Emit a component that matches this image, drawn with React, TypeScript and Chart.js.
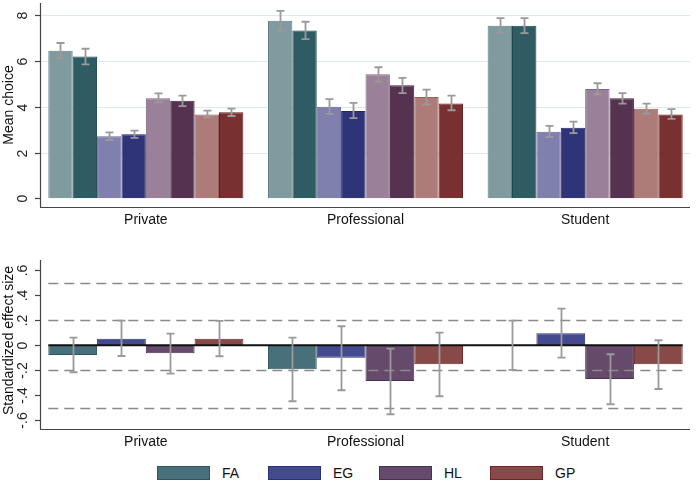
import React, { useEffect, useRef } from "react";
import { Chart, registerables } from "chart.js";
Chart.register(...registerables);

// ---------- DATA ----------
const categories = ["Private", "Professional", "Student"];
const seriesNames = ["FA", "EG", "HL", "GP"];

// Top panel: mean choice (light = first condition, dark = second condition)
const faLight = [6.45, 7.76, 7.55];
const faLightLo = [6.12, 7.33, 7.23];
const faLightHi = [6.79, 8.2, 7.88];
const faDark = [6.2, 7.34, 7.55];
const faDarkLo = [5.86, 6.96, 7.22];
const faDarkHi = [6.54, 7.72, 7.88];
const egLight = [2.71, 4.0, 2.91];
const egLightLo = [2.55, 3.69, 2.68];
const egLightHi = [2.88, 4.34, 3.17];
const egDark = [2.8, 3.82, 3.09];
const egDarkLo = [2.64, 3.51, 2.85];
const egDarkHi = [2.96, 4.17, 3.35];
const hlLight = [4.38, 5.42, 4.78];
const hlLightLo = [4.2, 5.1, 4.55];
const hlLightHi = [4.59, 5.73, 5.03];
const hlDark = [4.27, 4.94, 4.37];
const hlDarkLo = [4.03, 4.6, 4.14];
const hlDarkHi = [4.49, 5.27, 4.6];
const gpLight = [3.67, 4.43, 3.92];
const gpLightLo = [3.54, 4.11, 3.7];
const gpLightHi = [3.83, 4.75, 4.14];
const gpDark = [3.76, 4.15, 3.67];
const gpDarkLo = [3.6, 3.85, 3.47];
const gpDarkHi = [3.92, 4.49, 3.9];

// Bottom panel: standardized effect sizes
const faEffect = [-0.078, -0.192, 0.0];
const faEffectLo = [-0.216, -0.448, -0.197];
const faEffectHi = [0.061, 0.061, 0.197];
const egEffect = [0.053, -0.099, 0.096];
const egEffectLo = [-0.086, -0.36, -0.099];
const egEffectHi = [0.197, 0.152, 0.293];
const hlEffect = [-0.064, -0.286, -0.27];
const hlEffectLo = [-0.227, -0.552, -0.472];
const hlEffectHi = [0.093, -0.027, -0.072];
const gpEffect = [0.053, -0.152, -0.152];
const gpEffectLo = [-0.088, -0.408, -0.35];
const gpEffectHi = [0.195, 0.101, 0.04];

const topTicks = [0, 2, 4, 6, 8];
const topTickLabels = ["0", "2", "4", "6", "8"];
const topGridValues = [2, 4, 6, 8];
const bottomTicks = [-0.6, -0.4, -0.2, 0, 0.2, 0.4, 0.6];
const bottomTickLabels = ["-.6", "-.4", "-.2", "0", ".2", ".4", ".6"];
const refLines = [-0.5, -0.2, 0.2, 0.5];

// ---------- STYLE ----------
const FONT = '"Liberation Sans", Arial, Helvetica, sans-serif';
const ERR_COLOR = "#9a9a9a";

const topColors = [
  ["#7f9ba0", "#5e7f86"],
  ["#2f5b63", "#1c464f"],
  ["#8080ae", "#66669c"],
  ["#2f3377", "#202468"],
  ["#9a8098", "#806680"],
  ["#55324f", "#40203c"],
  ["#ad7c79", "#955f5c"],
  ["#793030", "#661a1a"],
];
const bottomColors = [
  ["#47707a", "#2c555e"],
  ["#444a8f", "#2c3277"],
  ["#654a6b", "#4a3050"],
  ["#884a48", "#6a2828"],
];

type AxisCfg = {
  ticks: number[];
  labels: string[];
  title: string;
  axisTop: number;
  axisBottom: number;
  grid?: number[];
  refLines?: number[];
  zeroLine?: boolean;
  titleShift: number;
};

function makePlugin(cfg: AxisCfg) {
  const axisX = 40.5;
  const axisRight = 690;
  return {
    id: "statAxes",
    beforeDatasetsDraw(chart: any) {
      const ctx = chart.ctx;
      const y = chart.scales.y;
      if (cfg.grid) {
        ctx.save();
        ctx.strokeStyle = "#dde9ed";
        ctx.lineWidth = 1.2;
        cfg.grid.forEach((v) => {
          const py = Math.round(y.getPixelForValue(v)) + 0.5;
          ctx.beginPath();
          ctx.moveTo(axisX, py);
          ctx.lineTo(axisRight, py);
          ctx.stroke();
        });
        ctx.restore();
      }
    },
    afterDatasetsDraw(chart: any) {
      const ctx = chart.ctx;
      const y = chart.scales.y;
      const n = chart.data.datasets.length;
      const m0 = chart.getDatasetMeta(0).data[0];
      const mN = chart.getDatasetMeta(n - 1).data;
      const last = mN[mN.length - 1];
      const x0 = m0.x - m0.width / 2;
      const x1 = last.x + last.width / 2;
      ctx.save();
      if (cfg.refLines) {
        ctx.strokeStyle = "#8a8a8a";
        ctx.lineWidth = 1.3;
        ctx.setLineDash([10, 6]);
        cfg.refLines.forEach((v) => {
          const py = Math.round(y.getPixelForValue(v)) + 0.5;
          ctx.beginPath();
          ctx.moveTo(x0, py);
          ctx.lineTo(x1, py);
          ctx.stroke();
        });
        ctx.setLineDash([]);
      }
      if (cfg.zeroLine) {
        ctx.strokeStyle = "#111";
        ctx.lineWidth = 1.8;
        const py = y.getPixelForValue(0);
        ctx.beginPath();
        ctx.moveTo(x0, py);
        ctx.lineTo(x1, py);
        ctx.stroke();
      }
      // error bars
      ctx.strokeStyle = ERR_COLOR;
      ctx.lineWidth = 1.8;
      chart.data.datasets.forEach((ds: any, i: number) => {
        const meta = chart.getDatasetMeta(i);
        meta.data.forEach((el: any, j: number) => {
          const lo = y.getPixelForValue(ds.errLo[j]);
          const hi = y.getPixelForValue(ds.errHi[j]);
          const x = Math.round(el.x) + 0.5;
          ctx.beginPath();
          ctx.moveTo(x, lo);
          ctx.lineTo(x, hi);
          ctx.moveTo(x - 4, lo);
          ctx.lineTo(x + 4, lo);
          ctx.moveTo(x - 4, hi);
          ctx.lineTo(x + 4, hi);
          ctx.stroke();
        });
      });
      ctx.restore();
    },
    afterDraw(chart: any) {
      const ctx = chart.ctx;
      const y = chart.scales.y;
      const x = chart.scales.x;
      const area = chart.chartArea;
      ctx.save();
      ctx.strokeStyle = "#444";
      ctx.lineWidth = 1.2;
      // y axis
      ctx.beginPath();
      ctx.moveTo(axisX, cfg.axisTop);
      ctx.lineTo(axisX, cfg.axisBottom);
      ctx.stroke();
      // x axis
      ctx.beginPath();
      ctx.moveTo(axisX - 0.5, cfg.axisBottom + 0.5);
      ctx.lineTo(axisRight, cfg.axisBottom + 0.5);
      ctx.stroke();
      // ticks + labels
      ctx.fillStyle = "#222";
      ctx.font = `14px ${FONT}`;
      ctx.textAlign = "center";
      ctx.textBaseline = "middle";
      cfg.ticks.forEach((v, i) => {
        const py = Math.round(y.getPixelForValue(v)) + 0.5;
        ctx.beginPath();
        ctx.moveTo(35, py);
        ctx.lineTo(axisX, py);
        ctx.stroke();
        ctx.save();
        ctx.translate(23, py);
        ctx.rotate(-Math.PI / 2);
        ctx.fillText(cfg.labels[i], 0, 0);
        ctx.restore();
      });
      // category labels
      ctx.fillStyle = "#111";
      chart.data.labels.forEach((lab: string, i: number) => {
        const px = x.getPixelForValue(i);
        ctx.fillText(lab, px, cfg.axisBottom + 13);
      });
      // title
      ctx.save();
      ctx.translate(9, (cfg.axisTop + cfg.axisBottom) / 2 + cfg.titleShift);
      ctx.rotate(-Math.PI / 2);
      ctx.fillText(cfg.title, 0, 0);
      ctx.restore();
      ctx.restore();
    },
  };
}

function baseOptions(ymin: number, ymax: number, padTop: number, xHeight: number) {
  return {
    responsive: false,
    animation: false as const,
    layout: { padding: { top: padTop, right: 1, left: 0, bottom: 0 } },
    plugins: { legend: { display: false }, tooltip: { enabled: false } },
    datasets: { bar: { categoryPercentage: 0.888, barPercentage: 1 } },
    scales: {
      x: {
        grid: { display: false },
        border: { display: false },
        ticks: { display: false },
        afterFit: (s: any) => {
          s.height = xHeight;
        },
      },
      y: {
        min: ymin,
        max: ymax,
        grid: { display: false },
        border: { display: false },
        ticks: { display: false },
        afterFit: (s: any) => {
          s.width = 36;
        },
      },
    },
  };
}

export default function App() {
  const topRef = useRef<HTMLCanvasElement>(null);
  const botRef = useRef<HTMLCanvasElement>(null);

  useEffect(() => {
    const topVals = [faLight, faDark, egLight, egDark, hlLight, hlDark, gpLight, gpDark];
    const topLo = [faLightLo, faDarkLo, egLightLo, egDarkLo, hlLightLo, hlDarkLo, gpLightLo, gpDarkLo];
    const topHi = [faLightHi, faDarkHi, egLightHi, egDarkHi, hlLightHi, hlDarkHi, gpLightHi, gpDarkHi];
    const topSets = topVals.map((d, i) => ({
      label: seriesNames[Math.floor(i / 2)] + (i % 2 ? " (2)" : " (1)"),
      data: d,
      errLo: topLo[i],
      errHi: topHi[i],
      backgroundColor: topColors[i][0],
      borderColor: topColors[i][1],
      borderWidth: 1,
    }));
    const botVals = [faEffect, egEffect, hlEffect, gpEffect];
    const botLo = [faEffectLo, egEffectLo, hlEffectLo, gpEffectLo];
    const botHi = [faEffectHi, egEffectHi, hlEffectHi, gpEffectHi];
    const botSets = botVals.map((d, i) => ({
      label: seriesNames[i],
      data: d,
      errLo: botLo[i],
      errHi: botHi[i],
      backgroundColor: bottomColors[i][0],
      borderColor: bottomColors[i][1],
      borderWidth: 1,
    }));

    const top = new Chart(topRef.current as HTMLCanvasElement, {
      type: "bar",
      data: { labels: categories, datasets: topSets as any },
      options: baseOptions(-0.38, 8.54, 3, 23) as any,
      plugins: [
        makePlugin({
          ticks: topTicks,
          labels: topTickLabels,
          title: "Mean choice",
          axisTop: 3,
          axisBottom: 207,
          grid: topGridValues,
          titleShift: 0,
        }),
      ],
    });
    const bot = new Chart(botRef.current as HTMLCanvasElement, {
      type: "bar",
      data: { labels: categories, datasets: botSets as any },
      options: baseOptions(-0.67, 0.682, 30, 31) as any,
      plugins: [
        makePlugin({
          ticks: bottomTicks,
          labels: bottomTickLabels,
          title: "Standardized effect size",
          axisTop: 30,
          axisBottom: 199,
          refLines: refLines,
          zeroLine: true,
          titleShift: -4,
        }),
      ],
    });
    return () => {
      top.destroy();
      bot.destroy();
    };
  }, []);

  return (
    <div
      style={{
        position: "absolute",
        left: 0,
        top: 0,
        width: 696,
        height: 484,
        background: "#fff",
        overflow: "hidden",
        fontFamily: FONT,
      }}
    >
      <canvas
        ref={topRef}
        width={696}
        height={230}
        style={{ position: "absolute", left: 0, top: 0, width: 696, height: 230 }}
      />
      <canvas
        ref={botRef}
        width={696}
        height={230}
        style={{ position: "absolute", left: 0, top: 230, width: 696, height: 230 }}
      />
      {seriesNames.map((name, i) => (
        <div
          key={name}
          style={{
            position: "absolute",
            left: 157 + i * 111,
            top: 466,
            height: 14,
            display: "flex",
            alignItems: "center",
          }}
        >
          <div
            style={{
              width: 51,
              height: 12,
              background: bottomColors[i][0],
              border: `1px solid ${bottomColors[i][1]}`,
            }}
          />
          <span style={{ marginLeft: 12, fontSize: 14, color: "#111", lineHeight: "14px" }}>{name}</span>
        </div>
      ))}
    </div>
  );
}
